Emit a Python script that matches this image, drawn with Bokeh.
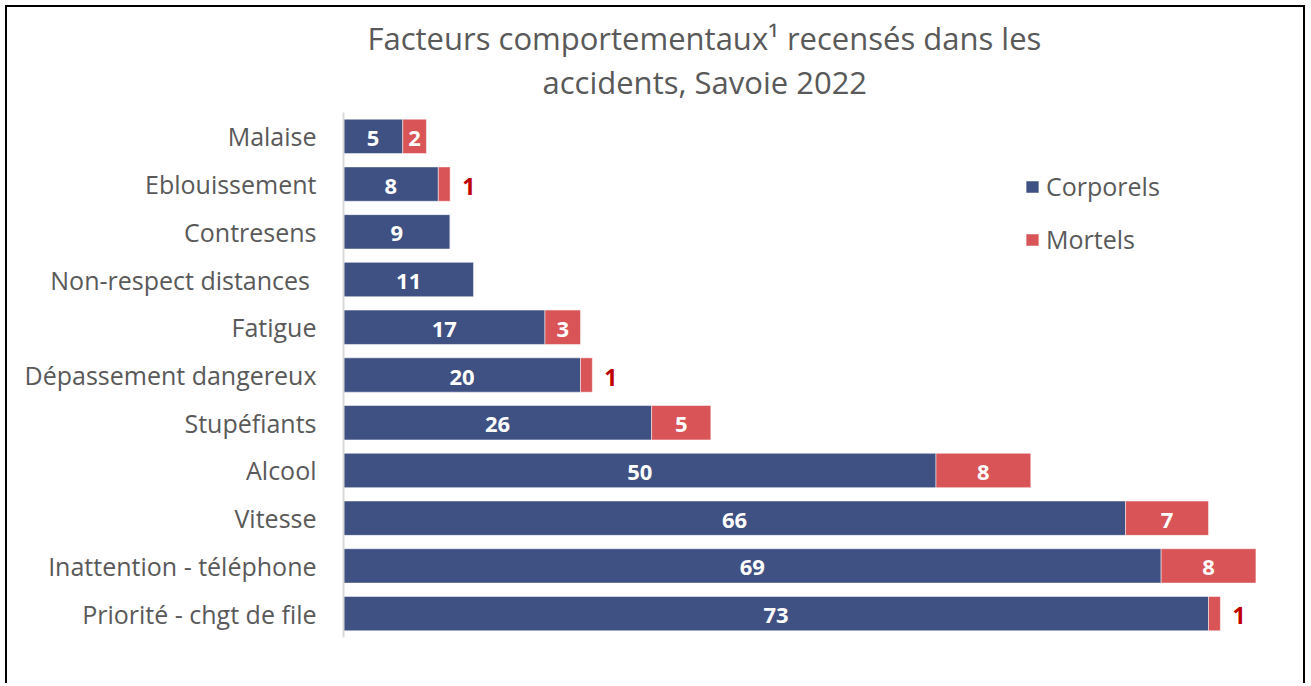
from bokeh.plotting import figure
from bokeh.models import ColumnDataSource, FactorRange, Range1d, Legend, Title
from bokeh.core.properties import value
from bokeh.embed import file_html
from bokeh.resources import INLINE

title_lines = ["Facteurs comportementaux\u00b9 recensés dans les", "accidents, Savoie 2022"]
categories = ["Malaise", "Eblouissement", "Contresens", "Non-respect distances ",
              "Fatigue", "Dépassement dangereux", "Stupéfiants", "Alcool",
              "Vitesse", "Inattention - téléphone", "Priorité - chgt de file"]
corporels = [5, 8, 9, 11, 17, 20, 26, 50, 66, 69, 73]
mortels = [2, 1, 0, 0, 3, 1, 5, 8, 7, 8, 1]

BLUE = "#3F5082"
RED = "#D85456"
GRAY = "#595959"
FONT = "Open Sans"

src = ColumnDataSource(dict(cat=categories, Corporels=corporels, Mortels=mortels))

p = figure(width=1300, height=678, output_backend="svg", toolbar_location=None,
           y_range=FactorRange(factors=list(reversed(categories))),
           x_range=Range1d(0, 78.82),
           min_border_left=336, min_border_top=105, min_border_bottom=48,
           min_border_right=30,
           styles={"margin-left": "5px", "margin-top": "5px",
                   "border-top": "2px solid black", "border-left": "2px solid black",
                   "border-right": "2px solid black"})

# title: two lines, added bottom line first (closest to the frame)
for txt, off, so in zip(reversed(title_lines), [199, 24], [20, -20]):
    p.add_layout(Title(text=txt, align="left", offset=off, text_font=FONT,
                       text_font_size="31px", text_font_style="normal",
                       text_color=GRAY, standoff=so), "above")

renderers = p.hbar_stack(["Corporels", "Mortels"], y="cat", height=0.72,
                         color=[BLUE, RED], line_color="white", line_width=0.5,
                         source=src)

in_x, in_y, in_t = [], [], []
out_x, out_y, out_t = [], [], []
for c, a, b in zip(categories, corporels, mortels):
    in_x.append(a / 2); in_y.append(c); in_t.append(str(a))
    if b >= 2:
        in_x.append(a + b / 2); in_y.append(c); in_t.append(str(b))
    elif b == 1:
        out_x.append(a + b); out_y.append(c); out_t.append(str(b))

p.text(x=in_x, y=in_y, text=in_t, text_align="center", text_baseline="middle",
       text_color="white", text_font=value(FONT), text_font_style="bold",
       text_font_size="22px", y_offset=2)
p.text(x=out_x, y=out_y, text=out_t, text_align="left", text_baseline="middle",
       text_color="#C00000", text_font=value(FONT), text_font_style="bold",
       text_font_size="23px", x_offset=12, y_offset=2)

legend = Legend(items=[("Corporels", [renderers[0]]), ("Mortels", [renderers[1]])],
                location=(681, 380), orientation="vertical",
                glyph_width=16, glyph_height=15, label_height=36, spacing=17,
                label_standoff=6, padding=0, margin=0,
                label_text_font=FONT, label_text_font_size="25px",
                label_text_color=GRAY, border_line_color=None,
                background_fill_alpha=0)
p.add_layout(legend, "center")

p.xaxis.visible = False
p.xgrid.visible = False
p.ygrid.visible = False
p.outline_line_color = None
p.yaxis.axis_line_color = "#D9D9D9"
p.yaxis.axis_line_width = 2
p.yaxis.major_tick_line_color = None
p.yaxis.minor_tick_line_color = None
p.yaxis.major_tick_out = 0
p.yaxis.major_tick_in = 0
p.yaxis.major_label_standoff = 27
p.yaxis.major_label_text_font = FONT
p.yaxis.major_label_text_font_size = "25px"
p.yaxis.major_label_text_color = GRAY
p.y_range.range_padding = 0
p.y_range.factor_padding = 0

open("out.html", "w").write(file_html(p, INLINE))
